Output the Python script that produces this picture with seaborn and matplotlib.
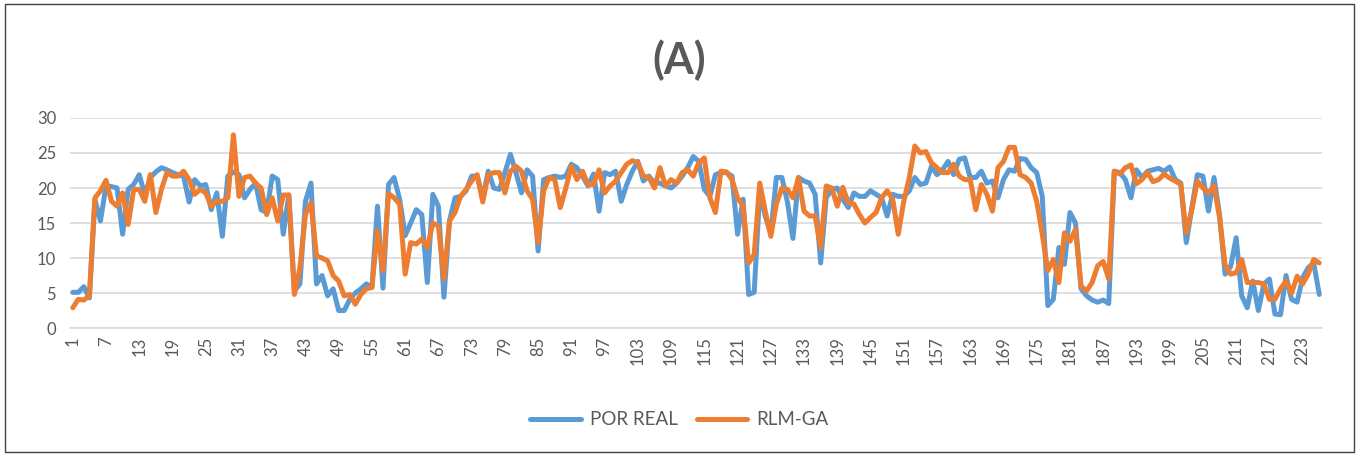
import numpy as np
import pandas as pd
import matplotlib
matplotlib.use("Agg")
import matplotlib.pyplot as plt
from matplotlib.patches import Rectangle
import seaborn as sns

# Measured series (index 1..226)
por_real = [
    5.1, 5.1, 5.9, 4.3, 18.3, 15.3, 20.3, 20.2, 20.0, 13.4,
    19.8, 20.5, 21.9, 19.0, 21.5, 22.3, 22.9, 22.6, 22.2, 21.9,
    21.7, 18.0, 21.2, 20.3, 20.5, 16.9, 19.3, 13.1, 21.7, 22.3,
    21.9, 18.6, 19.8, 20.7, 16.9, 16.5, 21.7, 21.2, 13.4, 19.0,
    5.3, 6.3, 18.1, 20.7, 6.3, 7.5, 4.6, 5.6, 2.5, 2.5,
    4.1, 5.0, 5.6, 6.3, 5.8, 17.4, 5.7, 20.5, 21.5, 18.4,
    13.2, 15.0, 16.9, 16.2, 6.5, 19.1, 17.4, 4.4, 15.3, 18.6,
    18.8, 19.6, 21.7, 21.7, 18.6, 22.4, 20.0, 19.8, 22.2, 24.8,
    22.2, 19.3, 22.6, 21.7, 11.0, 21.2, 21.5, 21.7, 21.5, 21.7,
    23.4, 22.9, 21.7, 20.3, 22.0, 16.7, 22.2, 21.9, 22.4, 18.1,
    20.5, 22.4, 23.8, 21.0, 21.7, 20.7, 20.7, 20.3, 20.0, 20.7,
    21.7, 22.9, 24.5, 23.8, 19.8, 18.8, 21.9, 22.2, 22.2, 21.7,
    13.4, 18.4, 4.8, 5.1, 19.5, 16.0, 13.5, 21.5, 21.5, 18.0,
    12.8, 21.5, 21.0, 20.7, 19.1, 9.3, 18.6, 19.8, 20.0, 18.4,
    17.2, 19.3, 18.8, 18.8, 19.6, 19.1, 18.6, 16.0, 19.1, 18.8,
    18.8, 19.6, 21.5, 20.5, 20.7, 23.1, 21.9, 22.6, 23.8, 21.9,
    24.1, 24.3, 21.5, 21.5, 22.4, 20.7, 21.0, 18.6, 21.2, 22.6,
    22.4, 24.2, 24.1, 22.9, 22.2, 18.8, 3.2, 4.1, 11.5, 9.1,
    16.5, 15.0, 5.6, 4.6, 4.0, 3.7, 4.0, 3.5, 22.4, 22.2,
    21.2, 18.6, 22.6, 21.5, 22.4, 22.6, 22.8, 22.4, 23.0, 21.2,
    20.7, 12.2, 17.2, 21.9, 21.7, 16.7, 21.5, 16.2, 7.7, 8.8,
    12.9, 4.6, 2.9, 6.7, 2.5, 6.3, 7.0, 2.0, 1.9, 7.5,
    4.1, 3.7, 7.2, 8.6, 9.3, 4.8,
]

rlm_ga = [
    2.9, 4.1, 4.0, 4.6, 18.6, 19.6, 21.1, 18.1, 17.4, 19.3,
    14.8, 19.8, 19.8, 18.1, 21.9, 16.5, 19.8, 22.2, 21.7, 21.7,
    22.4, 21.2, 19.1, 19.8, 19.3, 17.4, 18.1, 18.1, 18.6, 27.6,
    18.8, 21.5, 21.7, 20.7, 20.0, 16.2, 18.6, 15.3, 19.0, 19.0,
    4.8, 8.6, 16.2, 17.9, 10.3, 10.0, 9.6, 7.5, 6.7, 4.6,
    4.8, 3.4, 4.8, 5.6, 5.8, 13.9, 8.2, 19.2, 18.6, 17.7,
    7.7, 12.2, 12.0, 12.7, 11.5, 15.0, 14.6, 7.0, 15.3, 16.5,
    18.8, 19.8, 21.0, 21.9, 18.0, 21.9, 22.2, 22.2, 19.3, 22.4,
    23.1, 22.4, 19.6, 18.4, 12.2, 19.6, 21.5, 21.2, 17.2, 20.0,
    23.1, 21.2, 22.4, 20.5, 20.5, 22.6, 19.3, 20.3, 21.0, 22.2,
    23.4, 23.9, 23.6, 21.7, 21.5, 20.0, 22.9, 20.3, 21.2, 20.7,
    22.2, 22.6, 21.7, 23.6, 24.3, 18.6, 16.5, 22.4, 22.3, 21.2,
    18.6, 17.4, 9.3, 10.5, 20.7, 16.7, 13.1, 17.7, 20.0, 19.8,
    18.6, 21.5, 16.7, 16.0, 16.0, 11.5, 20.3, 20.0, 17.4, 20.1,
    17.9, 17.7, 16.2, 15.0, 15.8, 16.5, 18.6, 19.6, 18.4, 13.4,
    18.1, 21.5, 26.0, 25.0, 25.2, 23.6, 22.9, 22.2, 22.2, 23.4,
    21.7, 21.2, 21.2, 16.9, 20.5, 19.1, 16.7, 22.9, 23.8, 25.8,
    25.8, 21.9, 21.5, 20.7, 18.1, 13.4, 8.2, 9.8, 6.5, 13.6,
    12.4, 14.1, 6.0, 5.3, 6.5, 8.9, 9.5, 7.0, 22.4, 22.0,
    22.9, 23.3, 20.6, 21.2, 22.2, 20.9, 21.2, 22.0, 21.4, 21.0,
    20.5, 13.6, 16.9, 21.0, 20.0, 19.3, 20.3, 15.8, 9.0, 7.7,
    7.9, 9.8, 6.5, 6.5, 6.5, 6.3, 4.1, 4.1, 5.6, 6.7,
    5.0, 7.4, 6.3, 7.7, 9.8, 9.3,
]

series_names = ["POR REAL", "RLM-GA"]
series_colors = ["#5B9BD5", "#ED7D31"]
y_ticks = [0, 5, 10, 15, 20, 25, 30]
x_ticks = list(range(1, 227, 6))
title = "(A)"

n = len(por_real)
idx = np.arange(1, n + 1)
df = pd.DataFrame({
    "t": np.concatenate([idx, idx]),
    "valor": np.concatenate([por_real, rlm_ga]),
    "serie": [series_names[0]] * n + [series_names[1]] * n,
})

sns.set_style("white")
plt.rcParams["font.family"] = ["Lato", "DejaVu Sans"]

fig = plt.figure(figsize=(13.59, 4.55), dpi=100)
ax = fig.add_axes([0.0515, 0.279, 0.9213, 0.4617])

sns.lineplot(data=df, x="t", y="valor", hue="serie", hue_order=series_names,
             palette=series_colors, linewidth=3.6, ax=ax, legend=False,
             solid_joinstyle="round", solid_capstyle="round")

ax.set_xlim(0.5, n + 0.5)
ax.set_ylim(0, 30)
ax.set_yticks(y_ticks)
ax.set_xticks(x_ticks)
ax.set_xticklabels([str(v) for v in x_ticks], rotation=90)
ax.tick_params(axis="both", length=0, labelsize=12, colors="#595959")
ax.tick_params(axis="x", pad=6)
ax.tick_params(axis="y", pad=10)
ax.set_xlabel("")
ax.set_ylabel("")
ax.yaxis.grid(True, color="#D9D9D9", linewidth=1.2)
ax.xaxis.grid(False)
ax.set_axisbelow(True)
for side in ["top", "right", "left"]:
    ax.spines[side].set_visible(False)
ax.spines["bottom"].set_color("#D9D9D9")
ax.spines["bottom"].set_linewidth(1.2)

fig.text(0.5, 0.868, title, ha="center", va="center", fontsize=31,
         fontweight="bold", color="#595959")

handles = [plt.Line2D([], [], color=c, linewidth=3.6) for c in series_colors]
fig.legend(handles, series_names, loc="center", bbox_to_anchor=(0.5, 0.077),
           ncol=2, frameon=False, fontsize=13.5, handlelength=2.7,
           columnspacing=1.0, handletextpad=0.5, labelcolor="#595959")

fig.add_artist(Rectangle((0.0035, 0.006), 0.9925, 0.985, transform=fig.transFigure,
                         fill=False, edgecolor="#404040", linewidth=1.0))

fig.savefig("out.png", dpi=100)
